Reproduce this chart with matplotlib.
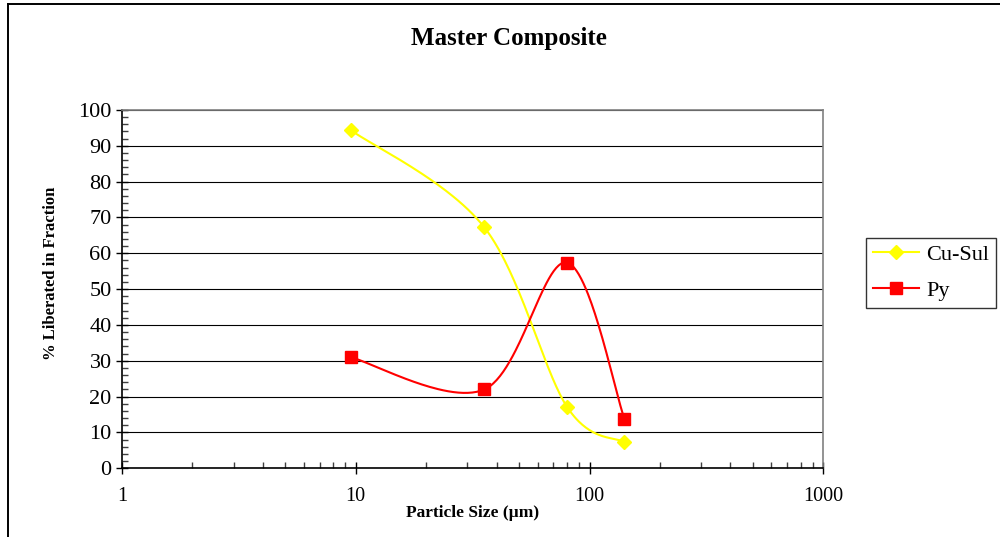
"""
Master Composite liberation curves (Excel-style smoothed lines on a log x axis).
"""

import numpy as np
import matplotlib
matplotlib.use("Agg")
import matplotlib.pyplot as plt
from matplotlib.lines import Line2D
from matplotlib.ticker import LogLocator, MultipleLocator, FixedLocator, FixedFormatter

plt.rcParams["font.family"] = ["Liberation Serif", "DejaVu Serif"]

# ── data ──────────────────────────────────────────────────────────────────────

sizes_um = [9.5, 35.5, 80, 141]
cu_sul   = [94.4, 67.2, 17.2, 7.3]
py       = [31.0, 22.0, 57.4, 13.8]

series_names  = ["Cu-Sul", "Py"]
series_colors = ["#FFFF00", "#FF0000"]
series_marker = ["D", "s"]
x_ticks       = [1, 10, 100, 1000]
x_ticklabels  = ["1", "10", "100", "1000"]


def excel_smooth(x, y, n=60):
    """Bezier smoothing like Excel's 'smoothed line', done in log-x space."""
    u = np.log10(np.asarray(x, float))
    v = np.asarray(y, float)
    P = np.column_stack([u, v])
    P_ext = np.vstack([P[0], P, P[-1]])
    t = np.linspace(0, 1, n)[:, None]
    out = []
    for i in range(len(P) - 1):
        p0, p1 = P_ext[i + 1], P_ext[i + 2]
        c1 = p0 + (P_ext[i + 2] - P_ext[i]) / 6
        c2 = p1 - (P_ext[i + 3] - P_ext[i + 1]) / 6
        seg = ((1 - t) ** 3) * p0 + 3 * ((1 - t) ** 2) * t * c1 \
            + 3 * (1 - t) * t ** 2 * c2 + t ** 3 * p1
        out.append(seg if i == 0 else seg[1:])
    curve = np.vstack(out)
    return 10 ** curve[:, 0], curve[:, 1]


# ── plot ───────────────────────────────────────────────────────────────────────

fig = plt.figure(figsize=(10, 5.37), dpi=100)
ax = fig.add_axes([0.122, 0.128, 0.7013, 0.6673])

handles = []
for vals, name, col, mk in zip([cu_sul, py], series_names, series_colors, series_marker):
    cx, cy = excel_smooth(sizes_um, vals)
    ax.plot(cx, cy, color=col, linewidth=1.5, zorder=3)
    ms = 7.2 if mk == "D" else 8.6
    ax.plot(sizes_um, vals, linestyle="none", marker=mk, markersize=ms,
            color=col, markeredgecolor=col, zorder=4)
    handles.append(Line2D([], [], color=col, linewidth=1.5, marker=mk,
                          markersize=ms, markeredgecolor=col, label=name))

ax.set_xscale("log")
ax.set_xlim(1, 1000)
ax.set_ylim(0, 100)

ax.xaxis.set_major_locator(FixedLocator(x_ticks))
ax.xaxis.set_major_formatter(FixedFormatter(x_ticklabels))
ax.xaxis.set_minor_locator(LogLocator(base=10, subs=np.arange(2, 10)))
ax.xaxis.set_minor_formatter(FixedFormatter([]))
ax.yaxis.set_major_locator(MultipleLocator(10))
ax.yaxis.set_minor_locator(MultipleLocator(2))

ax.tick_params(which="major", direction="inout", length=9, width=1, color="black")
ax.tick_params(which="minor", direction="in", length=4.5, width=1, color="#404040")
ax.tick_params(axis="x", which="major", pad=9, labelsize=14.5)
ax.tick_params(axis="y", which="major", pad=3, labelsize=16)

ax.grid(True, axis="y", which="major", color="black", linewidth=0.8)
ax.set_axisbelow(True)

for side in ["top", "right"]:
    ax.spines[side].set_color("#808080")
    ax.spines[side].set_linewidth(1.2)
for side in ["left", "bottom"]:
    ax.spines[side].set_color("black")
    ax.spines[side].set_linewidth(1.2)

ax.set_xlabel("Particle Size (µm)", fontsize=12.5, fontweight="bold")
ax.xaxis.set_label_coords(0.5, -0.1024)
ax.set_ylabel("% Liberated in Fraction", fontsize=12, fontweight="bold")
ax.yaxis.set_label_coords(-0.09, 0.544)

fig.text(0.509, 0.929, "Master Composite", ha="center", va="center",
         fontsize=18, fontweight="bold")

leg = fig.legend(handles=handles, loc="upper left",
                 bbox_to_anchor=(0.866, 1 - 238 / 537), borderaxespad=0,
                 fontsize=16, frameon=True, fancybox=False, handlelength=2.1,
                 handletextpad=0.3, labelspacing=0.68, borderpad=0.3)
leg.get_frame().set_edgecolor("black")
leg.get_frame().set_linewidth(1.0)

# outer chart border (top and left edges visible)
fig.add_artist(Line2D([0.008, 1.0], [1 - 4 / 537, 1 - 4 / 537],
                      transform=fig.transFigure, color="black", linewidth=1.4))
fig.add_artist(Line2D([0.008, 0.008], [0.0, 1 - 4 / 537],
                      transform=fig.transFigure, color="black", linewidth=1.4))

fig.savefig("out.png", dpi=100)
